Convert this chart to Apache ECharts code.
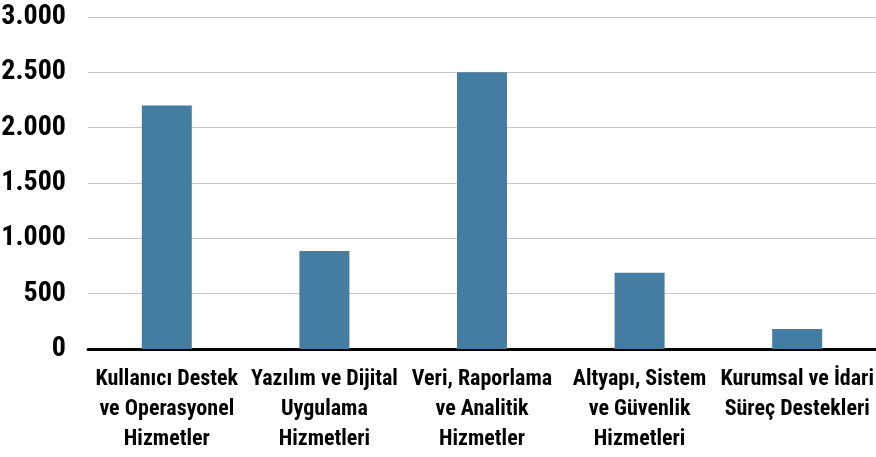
<!DOCTYPE html>
<html>
<head>
<meta charset="utf-8">
<script src="https://cdn.jsdelivr.net/npm/echarts@6/dist/echarts.min.js"></script>
<style>
  html, body { margin: 0; padding: 0; background: #ffffff; }
  #chart { width: 876px; height: 457px; }
</style>
</head>
<body>
<div id="chart"></div>
<script>
// Service groups and their counts
const categories = [
  'Kullanıcı Destek\nve Operasyonel\nHizmetler',
  'Yazılım ve Dijital\nUygulama\nHizmetleri',
  'Veri, Raporlama\nve Analitik\nHizmetler',
  'Altyapı, Sistem\nve Güvenlik\nHizmetleri',
  'Kurumsal ve İdari\nSüreç Destekleri'
];
const values = [2200, 885, 2500, 690, 180];
const yTicks = { min: 0, max: 3000, interval: 500 };

const FONT = '"Noto Sans ExtraCondensed", "Roboto Condensed", "Noto Sans Condensed", "Liberation Sans Narrow", "DejaVu Sans Condensed", sans-serif';

function thousands(v) {
  return String(v).replace(/\B(?=(\d{3})+(?!\d))/g, '.');
}

const chart = echarts.init(document.getElementById('chart'), null, { renderer: 'canvas' });
chart.setOption({
  animation: false,
  grid: { left: 88, right: 0, top: 17, bottom: 108, containLabel: false, outerBoundsMode: 'none' },
  xAxis: {
    type: 'category',
    data: categories,
    axisTick: { show: false },
    axisLine: { show: true, lineStyle: { color: '#000000', width: 3 } },
    axisLabel: {
      interval: 0,
      margin: 15,
      color: '#000000',
      fontFamily: FONT,
      fontWeight: 'bold',
      fontSize: 22,
      lineHeight: 30
    }
  },
  yAxis: {
    type: 'value',
    min: yTicks.min,
    max: yTicks.max,
    interval: yTicks.interval,
    axisLine: { show: false },
    axisTick: { show: false },
    splitLine: { show: true, lineStyle: { color: '#c8c8c8', width: 1 } },
    axisLabel: {
      margin: 22,
      color: '#000000',
      fontFamily: FONT,
      fontWeight: 'bold',
      fontSize: 28,
      formatter: thousands
    }
  },
  series: [{
    type: 'bar',
    data: values,
    barWidth: 50,
    itemStyle: { color: '#457ca1' }
  }]
});
</script>
</body>
</html>
